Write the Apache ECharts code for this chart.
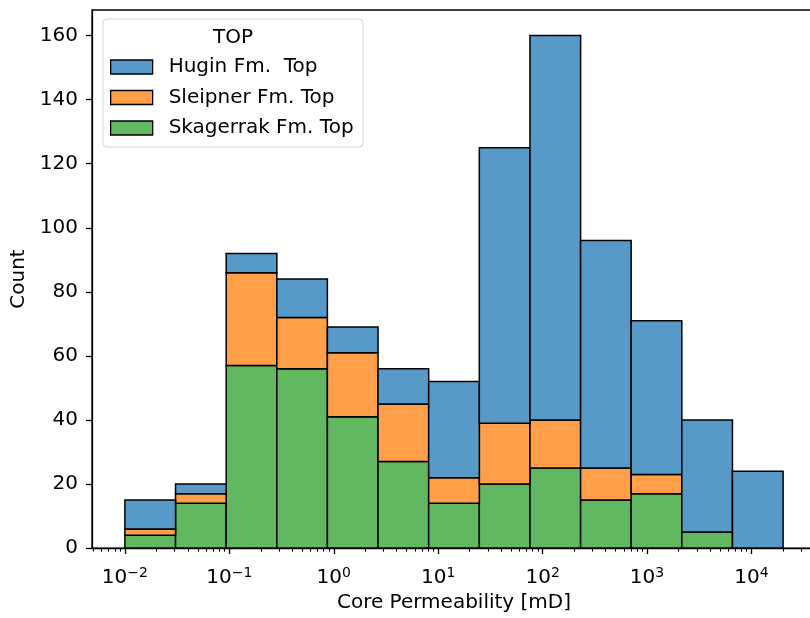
<!DOCTYPE html>
<html>
<head>
<meta charset="utf-8">
<script src="https://cdn.jsdelivr.net/npm/echarts@6/dist/echarts.min.js"></script>
<style>
html, body { margin: 0; padding: 0; background: #fff; overflow: hidden; }
/* plot area runs a few pixels past the right edge, as in the reference crop */
#chart { width: 820px; height: 618px; }
</style>
</head>
<body>
<div id="chart"></div>
<script>
// bin edges in log10(mD), 13 equal-width bins from 1e-2 to ~2e4
var binEdges = [-2, -1.515, -1.030, -0.545, -0.061, 0.424, 0.909, 1.394, 1.879, 2.364, 2.848, 3.333, 3.818, 4.303];
var formations = ['Hugin Fm.  Top', 'Sleipner Fm. Top', 'Skagerrak Fm. Top'];
var huginCounts     = [9, 3, 6, 12, 8, 11, 30, 86, 120, 71, 48, 35, 24];
var sleipnerCounts  = [2, 3, 29, 16, 20, 18, 8, 19, 15, 10, 6, 0, 0];
var skagerrakCounts = [4, 14, 57, 56, 41, 27, 14, 20, 25, 15, 17, 5, 0];
var colors = ['#5799c7', '#ff9f4a', '#61b861'];
var majorTicks = [-2, -1, 0, 1, 2, 3, 4];
var yTicks = [0, 20, 40, 60, 80, 100, 120, 140, 160];

var xMin = -2.315, xMax = 4.618;
var FONT = 'DejaVu Sans';

// stack from the bottom: Skagerrak, Sleipner, Hugin
var stackOrder = [skagerrakCounts, sleipnerCounts, huginCounts];
var stackNames = [formations[2], formations[1], formations[0]];
var stackColors = [colors[2], colors[1], colors[0]];
var base = binEdges.slice(1).map(function () { return 0; });
var stacked = stackOrder.map(function (counts) {
    var rows = [];
    counts.forEach(function (c, i) {
        if (c > 0) rows.push([binEdges[i], binEdges[i + 1], base[i], base[i] + c]);
        base[i] += c;
    });
    return rows;
});

var minorTicks = [];
for (var n = -3; n <= 4; n++) {
    for (var k = 2; k <= 9; k++) {
        var v = n + Math.log10(k);
        if (v > xMin && v < xMax) minorTicks.push(v);
    }
}

function renderBin(params, api) {
    var p0 = api.coord([api.value(0), api.value(3)]);
    var p1 = api.coord([api.value(1), api.value(2)]);
    return {
        type: 'rect',
        shape: { x: p0[0], y: p0[1], width: p1[0] - p0[0], height: p1[1] - p0[1] },
        style: { fill: api.visual('color'), stroke: '#000', lineWidth: 1.5 }
    };
}

var chart = echarts.init(document.getElementById('chart'));
chart.setOption({
    animation: false,
    textStyle: { fontFamily: FONT },
    grid: { left: 92, top: 10, width: 724, bottom: 69, show: true, borderColor: '#000', borderWidth: 1.3 },
    xAxis: [{
        type: 'value', min: xMin, max: xMax,
        name: 'Core Permeability [mD]', nameLocation: 'middle', nameGap: 44,
        nameTextStyle: { fontSize: 20, color: '#000', fontFamily: FONT },
        axisLine: { onZero: false, lineStyle: { color: '#000', width: 1.3 } },
        axisTick: { length: 6, customValues: majorTicks, lineStyle: { color: '#000', width: 1.3 } },
        splitLine: { show: false },
        axisLabel: {
            customValues: majorTicks, margin: 18,
            formatter: function (v) {
                var e = (v < 0 ? '\u2212' : '') + Math.abs(Math.round(v));
                return '{b|10}{s|' + e + '}';
            },
            rich: {
                b: { fontSize: 20, lineHeight: 24, color: '#000', fontFamily: FONT },
                s: { fontSize: 14, lineHeight: 15, verticalAlign: 'top', color: '#000', fontFamily: FONT }
            }
        }
    }, {
        type: 'value', min: xMin, max: xMax, position: 'bottom',
        axisLine: { show: false, onZero: false },
        axisTick: { length: 3.5, customValues: minorTicks, lineStyle: { color: '#000', width: 1 } },
        axisLabel: { show: false },
        splitLine: { show: false }
    }],
    yAxis: {
        type: 'value', min: 0, max: 168,
        name: 'Count', nameLocation: 'middle', nameGap: 62,
        nameTextStyle: { fontSize: 20, color: '#000', fontFamily: FONT },
        axisLine: { show: true, onZero: false, lineStyle: { color: '#000', width: 1.3 } },
        axisTick: { show: true, length: 6, customValues: yTicks, lineStyle: { color: '#000', width: 1.3 } },
        axisLabel: { fontSize: 20, color: '#000', margin: 14, customValues: yTicks, fontFamily: FONT },
        splitLine: { show: false }
    },
    legend: {
        orient: 'vertical', left: 110, top: 57, padding: 0,
        itemWidth: 42, itemHeight: 14, itemGap: 10.5,
        textStyle: { fontSize: 20, lineHeight: 20, color: '#000', padding: [0, 0, 0, 11], fontFamily: FONT },
        data: formations.map(function (f, i) {
            return { name: f, icon: 'rect', itemStyle: { color: colors[i], borderColor: '#000', borderWidth: 1.3 } };
        })
    },
    graphic: [{
        type: 'rect', z: 1,
        shape: { x: 103, y: 19, width: 260, height: 128, r: 4 },
        style: { fill: 'rgba(255,255,255,0.8)', stroke: '#d4d4d4', lineWidth: 1 }
    }, {
        type: 'text', z: 2, x: 233, y: 38,
        style: { text: 'TOP', fontSize: 20, fontFamily: FONT, fill: '#000', textAlign: 'center', textVerticalAlign: 'middle' }
    }],
    series: stacked.map(function (rows, i) {
        return {
            type: 'custom', name: stackNames[i],
            xAxisIndex: 0, yAxisIndex: 0,
            itemStyle: { color: stackColors[i] },
            renderItem: renderBin,
            encode: { x: [0, 1], y: [2, 3] },
            data: rows
        };
    })
});
</script>
</body>
</html>
